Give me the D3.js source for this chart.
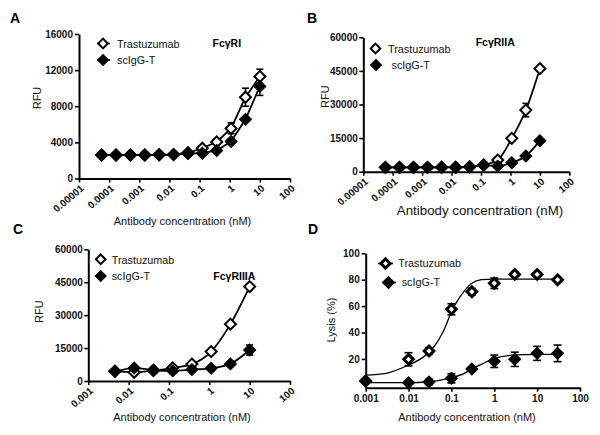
<!DOCTYPE html>
<html><head><meta charset="utf-8">
<script src="https://cdn.jsdelivr.net/npm/d3@7"></script>
<style>
body{margin:0;background:#fff}
svg{display:block;font-family:"Liberation Sans",Arial,Helvetica,sans-serif}
</style></head><body>
<svg id="c" width="600" height="435"></svg>
<script>
// ---------------- DATA ----------------
const seriesNames = ["Trastuzumab", "scIgG-T"];

// Panels A & B: 3-fold dilutions from 10 nM (12 points)
const concAB = [10, 3.333, 1.111, 0.3704, 0.1235, 0.04115, 0.01372, 0.004572, 0.001524, 0.000508, 0.0001694, 0.00005645];
// Panel C: 3-fold dilutions (8 points)
const concC = [10, 3.333, 1.111, 0.3704, 0.1235, 0.04115, 0.01372, 0.004572];
// Panel D
const concD = [0.001, 0.01, 0.03, 0.1, 0.3, 1, 3, 10, 30];

// A: FcγRI
const A_tras     = [11300, 9000, 5550, 4050, 3350, 2850, 2650, 2650, 2600, 2600, 2600, 2600];
const A_trasErr  = [800, 1000, 600, 250, 200, 150, 100, 100, 100, 100, 100, 100];
const A_scigg    = [10200, 6550, 4100, 3100, 2800, 2750, 2650, 2600, 2600, 2600, 2600, 2600];
const A_sciggErr = [1000, 300, 200, 150, 100, 100, 100, 100, 100, 100, 100, 100];

// B: FcγRIIA
const B_tras     = [46000, 27500, 14900, 5200, 3000, 2200, 2000, 2000, 1950, 1950, 1950, 1950];
const B_trasErr  = [700, 3000, 800, 500, 300, 200, 200, 200, 200, 200, 200, 200];
const B_scigg    = [13850, 7000, 4000, 2500, 2900, 2100, 1900, 1900, 1900, 1900, 1900, 1900];
const B_sciggErr = [600, 500, 300, 200, 200, 200, 200, 200, 200, 200, 200, 200];

// C: FcγRIIIA
const C_tras     = [43000, 25900, 13400, 7700, 6000, 4700, 4000, 4500];
const C_trasErr  = [800, 800, 600, 400, 300, 300, 300, 300];
const C_scigg    = [14100, 7800, 5800, 5200, 4600, 5000, 5900, 4300];
const C_sciggErr = [2300, 500, 400, 300, 300, 300, 300, 300];

// D: Lysis (%)
const D_tras     = [3.3, 19.7, 26, 57.6, 70.9, 77.3, 84, 84, 80];
const D_trasErr  = [1.5, 5, 2.5, 4.2, 2.5, 4, 1.5, 1.5, 1.5];
const D_scigg    = [3.3, 2.0, 2.5, 5.3, 12.4, 18.2, 19.7, 24.2, 24.2];
const D_sciggErr = [1.5, 1, 2, 3.5, 1.5, 4.7, 5.4, 5.3, 6.3];
// D: fitted curves
const D_fitTrasX  = [0.001, 0.003, 0.01, 0.02, 0.03, 0.05, 0.07, 0.1, 0.15, 0.2, 0.3, 0.5, 1, 3, 10, 30];
const D_fitTrasY  = [7.8, 9.1, 15.4, 20.4, 25, 34.3, 43.2, 55.8, 65.9, 71.4, 77.3, 80, 80.5, 80.5, 80.5, 80.5];
const D_fitSciggX = [0.001, 0.01, 0.03, 0.1, 0.2, 0.3, 0.5, 1, 3, 10, 30];
const D_fitSciggY = [2.0, 2.0, 2.7, 5.8, 9.1, 12.4, 15.9, 20.4, 23, 23.5, 23.5];

// Tick values / labels
const xTicksAB = [1e-5, 1e-4, 1e-3, 1e-2, 1e-1, 1, 10, 100];
const xLabelsAB = ["0.00001", "0.0001", "0.001", "0.01", "0.1", "1", "10", "100"];
const xTicksCD = [1e-3, 1e-2, 1e-1, 1, 10, 100];
const xLabelsCD = ["0.001", "0.01", "0.1", "1", "10", "100"];
const yTicksA = [0, 4000, 8000, 12000, 16000];
const yLabelsA = ["0", "4000", "8000", "12000", "16000"];
const yTicksBC = [0, 15000, 30000, 45000, 60000];
const yLabelsBC = ["0", "15000", "30000", "45000", "60000"];
const yTicksD = [20, 40, 60, 80, 100];
const yLabelsD = ["20", "40", "60", "80", "100"];

const panelLetters = ["A", "B", "C", "D"];
const panelTitles = ["FcγRI", "FcγRIIA", "FcγRIIIA", ""];
const xTitle = "Antibody concentration (nM)";
const yTitles = ["RFU", "RFU", "RFU", "Lysis (%)"];

// ---------------- DRAW ----------------
const svg = d3.select("#c");
const FONT = '"Liberation Sans",Arial,Helvetica,sans-serif';

function marker(g, cx, cy, open, r, sw) {
  const side = r * Math.SQRT2;
  g.append("path")
    .attr("d", d3.symbol(d3.symbolSquare, side * side)())
    .attr("transform", `translate(${cx},${cy}) rotate(45)`)
    .attr("fill", open ? "#fff" : "#000")
    .attr("stroke", "#000")
    .attr("stroke-width", open ? sw : 1);
}

function drawPanel(cfg) {
  const g = svg.append("g");
  const x = d3.scaleLog().domain(cfg.xDomain).range(cfg.xRange);
  const y = d3.scaleLinear().domain(cfg.yDomain).range(cfg.yRange);
  const y0 = cfg.yRange[0];

  // axes
  const yAxis = d3.axisLeft(y).tickValues(cfg.yTicks)
    .tickFormat((d, i) => cfg.yLabels[i]).tickSize(4).tickSizeOuter(0).tickPadding(cfg.yPad);
  const ya = g.append("g").attr("transform", `translate(${cfg.xRange[0]},0)`).call(yAxis);
  const xAxis = d3.axisBottom(x).tickValues(cfg.xTicks)
    .tickFormat((d, i) => cfg.xLabels[i]).tickSize(4).tickSizeOuter(0).tickPadding(3);
  const xa = g.append("g").attr("transform", `translate(0,${y0})`).call(xAxis);
  [ya, xa].forEach(a => {
    a.select(".domain").attr("stroke", "#000").attr("stroke-width", 2);
    a.selectAll(".tick line").attr("stroke", "#000").attr("stroke-width", 1.6);
    a.selectAll("text").attr("font-family", FONT).attr("font-size", 10)
      .attr("font-weight", "bold").attr("fill", "#111");
  });
  if (cfg.rotate) {
    xa.selectAll(".tick text")
      .attr("text-anchor", "end").attr("x", 0).attr("y", 0).attr("dy", 0)
      .attr("transform", "translate(5,11) rotate(-40)");
  }

  // lines
  const line = d3.line().x(d => x(d[0])).y(d => y(d[1])).curve(cfg.curve);
  cfg.series.forEach(s => {
    const pts = s.fitX ? s.fitX.map((v, i) => [v, s.fitY[i]]) : s.x.map((v, i) => [v, s.y[i]]);
    g.append("path").datum(pts).attr("d", line)
      .attr("fill", "none").attr("stroke", "#000").attr("stroke-width", cfg.lw);
  });
  // error bars
  cfg.series.forEach(s => {
    s.x.forEach((v, i) => {
      const cx = x(v), t = y(s.y[i] + s.err[i]), b = y(s.y[i] - s.err[i]);
      g.append("line").attr("x1", cx).attr("x2", cx).attr("y1", t).attr("y2", b)
        .attr("stroke", "#000").attr("stroke-width", 1.6);
      [t, b].forEach(yy => g.append("line").attr("x1", cx - cfg.cap).attr("x2", cx + cfg.cap)
        .attr("y1", yy).attr("y2", yy).attr("stroke", "#000").attr("stroke-width", 1.6));
    });
  });
  // markers (open first, filled on top)
  cfg.series.forEach(s => {
    s.x.forEach((v, i) => marker(g, x(v), y(s.y[i]), s.open, s.open ? cfg.rOpen : cfg.rFill, cfg.sw));
  });

  // legend
  cfg.legend.forEach((L, k) => {
    if (L.line) g.append("line").attr("x1", L.line[0]).attr("x2", L.line[1])
      .attr("y1", L.my).attr("y2", L.my).attr("stroke", "#000").attr("stroke-width", 1.6);
    marker(g, L.mx, L.my, k === 0, k === 0 ? cfg.legROpen : cfg.legRFill, cfg.sw);
    g.append("text").attr("x", L.tx).attr("y", L.ty).text(seriesNames[k])
      .attr("font-family", FONT).attr("font-size", 10.8).attr("fill", "#111");
  });

  // titles
  g.append("text").attr("x", cfg.letter[0]).attr("y", cfg.letter[1]).text(cfg.letterText)
    .attr("font-family", FONT).attr("font-size", 14).attr("font-weight", "bold");
  if (cfg.titleText) g.append("text").attr("x", cfg.title[0]).attr("y", cfg.title[1]).text(cfg.titleText)
    .attr("font-family", FONT).attr("font-size", 10.5).attr("font-weight", "bold");
  g.append("text").attr("x", cfg.xt[0]).attr("y", cfg.xt[1]).text(xTitle)
    .attr("text-anchor", "middle").attr("font-family", FONT).attr("font-size", cfg.xtSize).attr("fill", "#111");
  g.append("text").attr("transform", `translate(${cfg.yt[0]},${cfg.yt[1]}) rotate(-90)`)
    .text(cfg.ytText).attr("text-anchor", "middle").attr("font-family", FONT)
    .attr("font-size", 11).attr("fill", "#111");
}

drawPanel({
  xDomain: [1e-5, 100], xRange: [79, 290], yDomain: [0, 16000], yRange: [178.5, 34],
  xTicks: xTicksAB, xLabels: xLabelsAB, yTicks: yTicksA, yLabels: yLabelsA, yPad: 2, rotate: true,
  curve: d3.curveLinear, lw: 1.8, cap: 3.5, rOpen: 5.5, rFill: 6, sw: 2,
  series: [
    {x: concAB, y: A_tras, err: A_trasErr, open: true},
    {x: concAB, y: A_scigg, err: A_sciggErr, open: false}
  ],
  legROpen: 4.8, legRFill: 5.5,
  legend: [
    {mx: 103, my: 43.5, line: [97, 110], tx: 117, ty: 47.5},
    {mx: 103, my: 60, line: [97, 110], tx: 117, ty: 64}
  ],
  letter: [10, 22.5], letterText: panelLetters[0],
  title: [212.5, 46.5], titleText: panelTitles[0],
  xt: [182.5, 225], xtSize: 11, yt: [41, 98], ytText: yTitles[0]
});

drawPanel({
  xDomain: [1e-5, 100], xRange: [363.3, 569.3], yDomain: [0, 60000], yRange: [171.7, 37.3],
  xTicks: xTicksAB, xLabels: xLabelsAB, yTicks: yTicksBC, yLabels: yLabelsBC, yPad: 1.5, rotate: true,
  curve: d3.curveMonotoneX, lw: 1.8, cap: 3.5, rOpen: 5.5, rFill: 6, sw: 2,
  series: [
    {x: concAB, y: B_tras, err: B_trasErr, open: true},
    {x: concAB, y: B_scigg, err: B_sciggErr, open: false}
  ],
  legROpen: 4.8, legRFill: 5.5,
  legend: [
    {mx: 375.5, my: 48.5, tx: 388, ty: 52.5},
    {mx: 376, my: 65, tx: 391.5, ty: 69}
  ],
  letter: [307, 23.3], letterText: panelLetters[1],
  title: [475.7, 45.5], titleText: panelTitles[1],
  xt: [480, 214.5], xtSize: 13.3, yt: [329, 96.7], ytText: yTitles[1]
});

drawPanel({
  xDomain: [1e-3, 100], xRange: [88.3, 290], yDomain: [0, 60000], yRange: [381, 249.3],
  xTicks: xTicksCD, xLabels: xLabelsCD, yTicks: yTicksBC, yLabels: yLabelsBC, yPad: 1.5, rotate: true,
  curve: d3.curveMonotoneX, lw: 1.8, cap: 3.5, rOpen: 5.5, rFill: 6, sw: 2,
  series: [
    {x: concC, y: C_tras, err: C_trasErr, open: true},
    {x: concC, y: C_scigg, err: C_sciggErr, open: false}
  ],
  legROpen: 4.8, legRFill: 5.5,
  legend: [
    {mx: 100.7, my: 259.3, line: [95, 106], tx: 111.7, ty: 263.5},
    {mx: 100.7, my: 276, line: [95, 106], tx: 111.7, ty: 280}
  ],
  letter: [13, 234], letterText: panelLetters[2],
  title: [213.3, 280], titleText: panelTitles[2],
  xt: [182, 421], xtSize: 11, yt: [43, 311.7], ytText: yTitles[2]
});

drawPanel({
  xDomain: [1e-3, 100], xRange: [365.7, 580], yDomain: [-1.8, 100], yRange: [387.7, 253.3],
  xTicks: xTicksCD, xLabels: xLabelsCD, yTicks: yTicksD, yLabels: yLabelsD, yPad: 2, rotate: false,
  curve: d3.curveMonotoneX, lw: 1.3, cap: 4, rOpen: 4.8, rFill: 6, sw: 3,
  series: [
    {x: concD, y: D_tras, err: D_trasErr, open: true, fitX: D_fitTrasX, fitY: D_fitTrasY},
    {x: concD, y: D_scigg, err: D_sciggErr, open: false, fitX: D_fitSciggX, fitY: D_fitSciggY}
  ],
  legROpen: 4.6, legRFill: 6,
  legend: [
    {mx: 385.5, my: 263.5, line: [378, 393], tx: 398.3, ty: 267.3},
    {mx: 388.5, my: 282.5, line: [382, 396], tx: 401.7, ty: 286.3}
  ],
  letter: [308, 234.3], letterText: panelLetters[3],
  title: [0, 0], titleText: panelTitles[3],
  xt: [467, 421], xtSize: 11, yt: [335, 320], ytText: yTitles[3]
});
</script>
</body></html>
